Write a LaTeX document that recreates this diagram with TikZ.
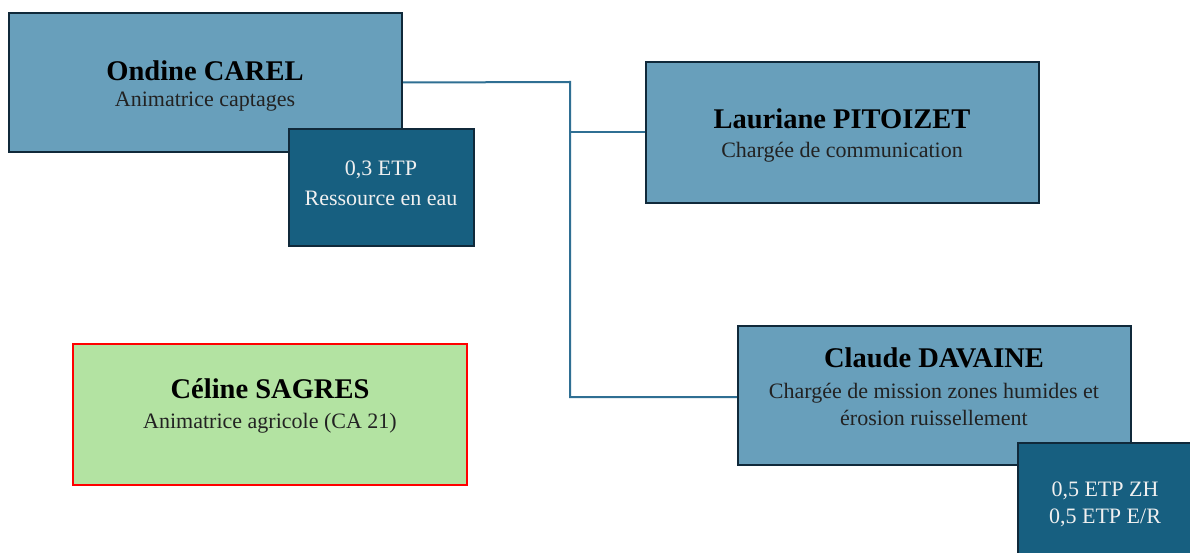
\documentclass[tikz,border=0pt]{standalone}
\usepackage{fontspec}
\setmainfont{Liberation Serif}
\usetikzlibrary{backgrounds}
\definecolor{lightblue}{HTML}{689FBB}
\definecolor{darkblue}{HTML}{175F80}
\definecolor{edge}{HTML}{10293A}
\definecolor{conncol}{HTML}{2F6F93}
\definecolor{greenfill}{HTML}{B3E3A2}
\definecolor{subtext}{HTML}{222222}
\begin{document}
\begin{tikzpicture}[x=1pt,y=-1pt,
  lbox/.style={draw=edge, line width=2pt, fill=lightblue, align=center, inner sep=0pt},
  dbox/.style={draw=edge, line width=2pt, fill=darkblue, align=center, inner sep=0pt},
  gbox/.style={draw=red, line width=2pt, fill=greenfill, align=center, inner sep=0pt},
  conn/.style={draw=conncol, line width=2pt},
  namef/.style={font=\fontsize{28.5}{30}\selectfont\bfseries, align=center, inner sep=0pt},
  subf/.style={font=\fontsize{22}{27}\selectfont, align=center, inner sep=0pt},
  wtext/.style={text=white!94!black}
]
\useasboundingbox (0,0) rectangle (1190,553);
\clip (0,0) rectangle (1190,553);

% connector junctions
\coordinate (j1) at (570,82);
\coordinate (j2) at (570,397);
\coordinate (jl) at (570,132);

% boxes
\node[lbox, minimum width=393, minimum height=139] (ondine) at (205.5,82.5) {};
\node[namef] (ondineN) at (205,71) {Ondine CAREL};
\node[subf, text=subtext] (ondineS) at (205,102) {Animatrice captages};

\node[dbox, minimum width=185, minimum height=117] (etp1) at (381.5,187.5) {};
\node[subf, wtext] (etp1a) at (381,170) {0,3 ETP};
\node[subf, wtext] (etp1b) at (381,198) {Ressource en eau};

\node[lbox, minimum width=393, minimum height=141] (lauriane) at (842.5,132.5) {};
\node[namef] (laurianeN) at (842,119) {Lauriane PITOIZET};
\node[subf, text=subtext] (laurianeS) at (842,152) {Chargée de communication};

\node[lbox, minimum width=393, minimum height=139] (claude) at (934.5,395.5) {};
\node[namef] (claudeN) at (934,358) {Claude DAVAINE};
\node[subf, text=subtext] (claudeS) at (934,404) {Chargée de mission zones humides et\\érosion ruissellement};

\node[dbox, minimum width=185, minimum height=117] (etp2) at (1110.5,501.5) {};
\node[subf, wtext] (etp2t) at (1105,504) {0,5 ETP ZH\\0,5 ETP E/R};

\node[gbox, minimum width=394, minimum height=141] (celine) at (270,414.5) {};
\node[namef] (celineN) at (270,389) {Céline SAGRES};
\node[subf, text=subtext] (celineS) at (270,423) {Animatrice agricole (CA 21)};

\begin{pgfonlayer}{background}
\fill[white] (0,0) rectangle (1190,553);
\draw[conn] (ondine.east) -- (j1) -- (j2) -- (claude.west |- j2);
\draw[conn] (jl) -- (lauriane.west |- jl);
\end{pgfonlayer}
\end{tikzpicture}
\end{document}
